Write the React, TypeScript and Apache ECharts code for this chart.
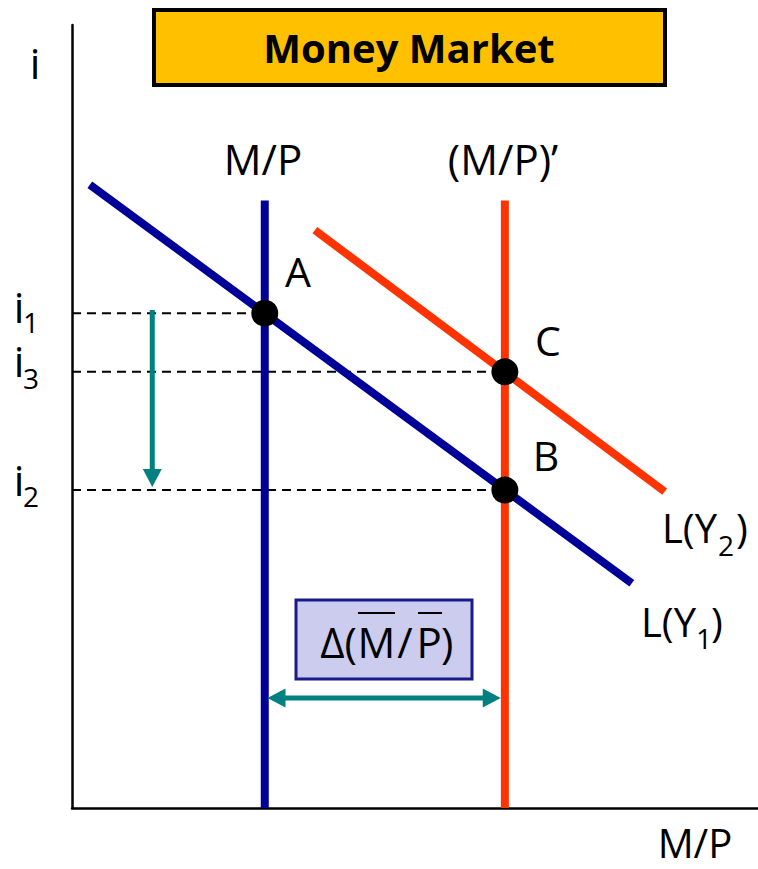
import React, { useEffect, useRef } from "react";
import * as echarts from "echarts";

// ---- data (axis units: 0..100 on both axes) ----
const moneySupply1 = [[28.1, 0], [28.1, 77.6]];
const moneySupply2 = [[63.1, 0], [63.1, 77.6]];
const demandY1 = [[2.6, 79.6], [81.6, 28.7]];
const demandY2 = [[35.4, 73.8], [86.4, 40.4]];
const pointNames = ["A", "C", "B"];
const pointX = [28.1, 63.1, 63.1];
const pointY = [63.2, 55.7, 40.6];
const rateLevels = [63.2, 55.7, 40.6]; // i1, i3, i2
const rateEndX = [28.1, 63.1, 63.1];
// arrows: x1, y1, x2, y2, doubleHeaded
const arrows = [
  [11.7, 63.6, 11.7, 41.0, 0],
  [28.5, 14.05, 62.5, 14.05, 1],
];

const FONT = "'Open Sans', 'Noto Sans', sans-serif";
const BLUE = "#000099";
const RED = "#FF3300";
const TEAL = "#008080";

export default function App() {
  const ref = useRef<HTMLDivElement>(null);
  useEffect(() => {
    if (!ref.current) return;
    const chart = echarts.init(ref.current, null, { renderer: "svg" });

    const lineSeries = (data: number[][], color: string, width: number, z = 3, dashed = false) => ({
      type: "line",
      data,
      symbol: "none",
      z,
      silent: true,
      lineStyle: { color, width, type: dashed ? [9, 6] : "solid", cap: "butt" },
    });

    const txt = (text: string, x: number, y: number, size: number, align = "center", extra: any = {}) => ({
      type: "text",
      x,
      y,
      z: 20,
      style: {
        text,
        fontSize: size,
        fontFamily: FONT,
        fill: "#000",
        textAlign: align,
        textVerticalAlign: "middle",
        ...extra,
      },
    });

    const rateLabels = [
      ["1", 306, 322],
      ["3", 360, 378],
      ["2", 479, 496],
    ];

    const graphic: any[] = [
      // title
      {
        type: "rect",
        shape: { x: 154, y: 10, width: 511, height: 75 },
        style: { fill: "#FFC000", stroke: "#000", lineWidth: 4 },
        z: 20,
      },
      txt("Money Market", 409, 47, 40, "center", { fontWeight: "bold" }),
      // axis labels
      txt("i", 35, 62, 42),
      txt("M/P", 695, 842, 40),
      txt("M/P", 263, 158, 42),
      txt("(M/P)\u2019", 503, 158, 42),
      txt("A", 298, 271, 41),
      txt("C", 548, 340, 41),
      txt("B", 546, 455, 41),
      // L(Y2)
      txt("L(Y", 717, 527, 40, "right"),
      txt("2", 726, 545, 28),
      txt(")", 736, 527, 40, "left"),
      // L(Y1)
      txt("L(Y", 696, 621, 40, "right"),
      txt("1", 704, 638, 28),
      txt(")", 711, 621, 40, "left"),
      // delta box
      {
        type: "rect",
        shape: { x: 296, y: 600, width: 176, height: 79 },
        style: { fill: "#CCCCEE", stroke: "#1A1A8C", lineWidth: 3 },
        z: 20,
      },
      txt("\u0394(", 357, 641, 42, "right"),
      txt("M", 376.5, 641, 42),
      txt("/", 405, 641, 42),
      txt("P", 429, 641, 42),
      txt(")", 441, 641, 42, "left"),
      { type: "line", z: 21, shape: { x1: 358, y1: 613, x2: 395, y2: 613 }, style: { stroke: "#000", lineWidth: 2 } },
      { type: "line", z: 21, shape: { x1: 418, y1: 613, x2: 442, y2: 613 }, style: { stroke: "#000", lineWidth: 2 } },
    ];
    rateLabels.forEach(([sub, yi, ys]) => {
      graphic.push(txt("i", 19, yi as number, 42));
      graphic.push(txt(sub as string, 31, ys as number, 28));
    });

    const option: any = {
      animation: false,
      backgroundColor: "#fff",
      grid: { left: 72, right: 0, top: 25, bottom: 61, containLabel: false },
      xAxis: {
        type: "value",
        min: 0,
        max: 100,
        axisLine: { show: true, lineStyle: { color: "#000", width: 2.5 } },
        axisTick: { show: false },
        axisLabel: { show: false },
        splitLine: { show: false },
      },
      yAxis: {
        type: "value",
        min: 0,
        max: 100,
        axisLine: { show: true, lineStyle: { color: "#000", width: 2.5 } },
        axisTick: { show: false },
        axisLabel: { show: false },
        splitLine: { show: false },
      },
      series: [
        ...rateLevels.map((y, k) =>
          lineSeries([[0, y], [rateEndX[k], y]], "#000", 2, 2, true)
        ),
        lineSeries(moneySupply1, BLUE, 8, 3),
        lineSeries(moneySupply2, RED, 8, 3),
        lineSeries(demandY1, BLUE, 8, 4),
        lineSeries(demandY2, RED, 8, 4),
        {
          type: "custom",
          z: 5,
          silent: true,
          clip: false,
          data: arrows,
          encode: { x: [0, 2], y: [1, 3] },
          renderItem: (_params: any, api: any) => {
            const p1 = api.coord([api.value(0), api.value(1)]);
            const p2 = api.coord([api.value(2), api.value(3)]);
            const both = api.value(4) === 1;
            const dx = p2[0] - p1[0];
            const dy = p2[1] - p1[1];
            const len = Math.hypot(dx, dy);
            const ux = dx / len;
            const uy = dy / len;
            const hl = 18;
            const hw = 9.5;
            const head = (tx: number, ty: number, dxu: number, dyu: number) => {
              const bx = tx - dxu * hl;
              const by = ty - dyu * hl;
              return {
                type: "polygon",
                shape: {
                  points: [
                    [tx, ty],
                    [bx - dyu * hw, by + dxu * hw],
                    [bx + dyu * hw, by - dxu * hw],
                  ],
                },
                style: { fill: TEAL },
              };
            };
            const s = both ? [p1[0] + ux * hl * 0.9, p1[1] + uy * hl * 0.9] : p1;
            const e = [p2[0] - ux * hl * 0.9, p2[1] - uy * hl * 0.9];
            const children: any[] = [
              {
                type: "line",
                shape: { x1: s[0], y1: s[1], x2: e[0], y2: e[1] },
                style: { stroke: TEAL, lineWidth: 5 },
              },
              head(p2[0], p2[1], ux, uy),
            ];
            if (both) children.push(head(p1[0], p1[1], -ux, -uy));
            return { type: "group", children };
          },
        },
        {
          type: "scatter",
          z: 6,
          silent: true,
          symbol: "circle",
          symbolSize: 27,
          itemStyle: { color: "#000", opacity: 1 },
          data: pointNames.map((n, k) => ({ name: n, value: [pointX[k], pointY[k]] })),
        },
      ],
      graphic,
    };
    chart.setOption(option);
    return () => chart.dispose();
  }, []);
  return (
    <div
      ref={ref}
      style={{ position: "absolute", left: 0, top: 0, width: 758, height: 869, background: "#fff" }}
    />
  );
}
